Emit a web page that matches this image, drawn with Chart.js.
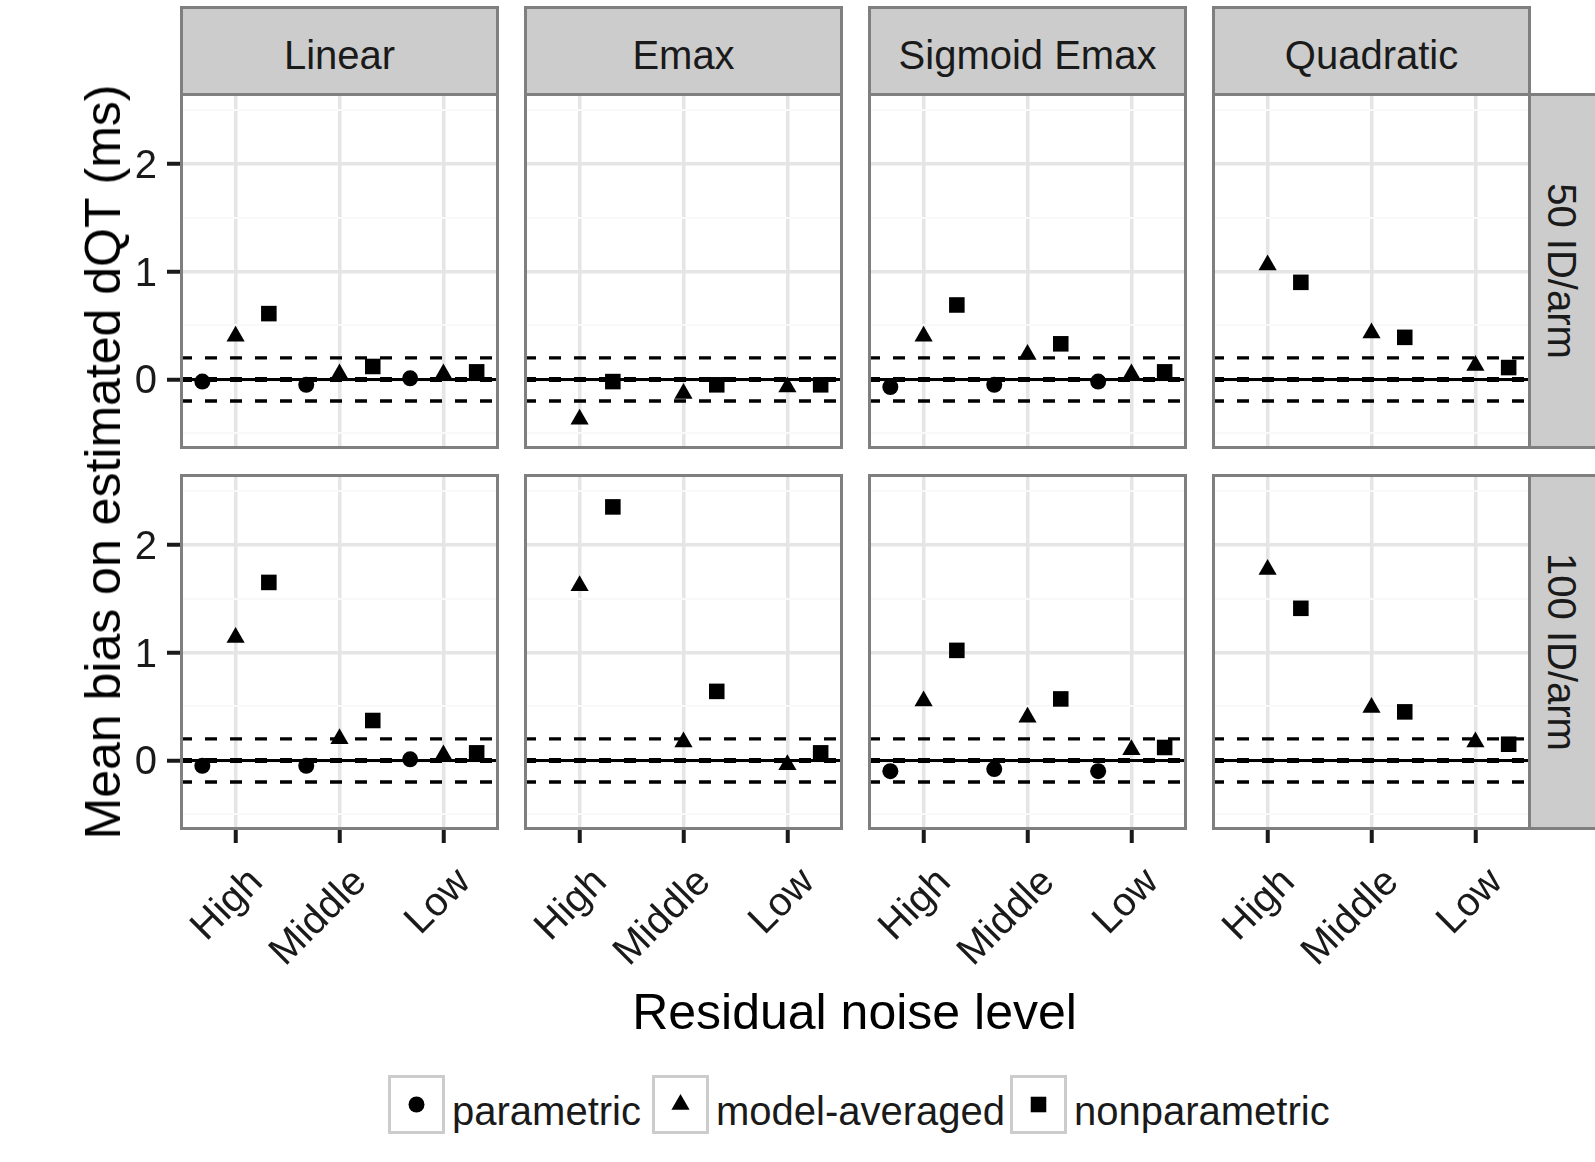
<!DOCTYPE html>
<html><head><meta charset="utf-8">
<script src="https://cdn.jsdelivr.net/npm/chart.js@4.4.1/dist/chart.umd.min.js"></script>
<style>
html,body{margin:0;padding:0;background:#fff;}
#root{position:relative;width:1595px;height:1162px;overflow:hidden;background:#fff;font-family:"Liberation Sans",Arial,sans-serif;color:#1a1a1a;}
#root canvas{position:absolute;}
.strip{position:absolute;box-sizing:border-box;background:#cccccc;border:3px solid #7f7f7f;}
.txt{position:absolute;white-space:nowrap;}
.key{position:absolute;box-sizing:border-box;border:3px solid #cccccc;background:#fff;}
</style></head>
<body><div id="root"></div>
<script>
// ---------------- data ----------------
const models = ['Linear', 'Emax', 'Sigmoid Emax', 'Quadratic'];
const sampleSizes = ['50 ID/arm', '100 ID/arm'];
const noiseLevels = ['High', 'Middle', 'Low'];
const methods = ['parametric', 'model-averaged', 'nonparametric'];
const yMajorTicks = [0, 1, 2];
const yMinorTicks = [-0.5, 0.5, 1.5, 2.5];
const refLevels = [-0.2, 0, 0.2];

// 50 ID/arm  (High, Middle, Low)
const linear50Param    = [-0.02, -0.05, 0.01];
const linear50ModelAvg = [0.40, 0.05, 0.05];
const linear50Nonpar   = [0.61, 0.12, 0.07];
const emax50Param      = [null, null, null];
const emax50ModelAvg   = [-0.37, -0.13, -0.07];
const emax50Nonpar     = [-0.02, -0.05, -0.05];
const sigmoid50Param   = [-0.07, -0.05, -0.02];
const sigmoid50ModelAvg= [0.40, 0.23, 0.05];
const sigmoid50Nonpar  = [0.69, 0.33, 0.07];
const quad50Param      = [null, null, null];
const quad50ModelAvg   = [1.06, 0.43, 0.13];
const quad50Nonpar     = [0.90, 0.39, 0.11];

// 100 ID/arm (High, Middle, Low)
const linear100Param    = [-0.05, -0.05, 0.01];
const linear100ModelAvg = [1.14, 0.20, 0.05];
const linear100Nonpar   = [1.65, 0.37, 0.07];
const emax100Param      = [null, null, null];
const emax100ModelAvg   = [1.62, 0.17, -0.04];
const emax100Nonpar     = [2.35, 0.64, 0.07];
const sigmoid100Param   = [-0.10, -0.08, -0.10];
const sigmoid100ModelAvg= [0.55, 0.40, 0.10];
const sigmoid100Nonpar  = [1.02, 0.57, 0.12];
const quad100Param      = [null, null, null];
const quad100ModelAvg   = [1.77, 0.49, 0.17];
const quad100Nonpar     = [1.41, 0.45, 0.15];

const panelSeries = [
  [[linear50Param, linear50ModelAvg, linear50Nonpar],
   [emax50Param, emax50ModelAvg, emax50Nonpar],
   [sigmoid50Param, sigmoid50ModelAvg, sigmoid50Nonpar],
   [quad50Param, quad50ModelAvg, quad50Nonpar]],
  [[linear100Param, linear100ModelAvg, linear100Nonpar],
   [emax100Param, emax100ModelAvg, emax100Nonpar],
   [sigmoid100Param, sigmoid100ModelAvg, sigmoid100Nonpar],
   [quad100Param, quad100ModelAvg, quad100Nonpar]]
];

// ---------------- layout / style ----------------
const FONT = '"Liberation Sans", Arial, sans-serif';
const colLeft = [180, 524, 868, 1212];
const panelW = 319;
const rowTop = [93, 474];
const panelH = 356;
const yMin = -0.645, yMax = 2.655;
const xMin = 0.465, xMax = 3.535;
const dodge = [-0.32, 0, 0.32];
const shapes = ['circle', 'triangle', 'rect'];
const radii = [8, 10.5, 11];
const TXT = '#1a1a1a';

const root = document.getElementById('root');

function addText(text, css) {
  const d = document.createElement('div');
  d.className = 'txt';
  d.textContent = text;
  Object.assign(d.style, css);
  root.appendChild(d);
  return d;
}

const framePlugin = {
  id: 'frame',
  afterDraw(chart) {
    const a = chart.chartArea, c = chart.ctx;
    c.save();
    c.strokeStyle = '#7f7f7f';
    c.lineWidth = 3;
    c.strokeRect(a.left + 1.5, a.top + 1.5, a.right - a.left - 3, a.bottom - a.top - 3);
    c.restore();
  }
};

const isMajor = v => yMajorTicks.includes(v);

function makePanel(r, c) {
  const yW = c === 0 ? 80 : 0;
  const xH = r === 1 ? 140 : 0;
  const cv = document.createElement('canvas');
  cv.width = panelW + yW;
  cv.height = panelH + xH;
  cv.style.left = (colLeft[c] - yW) + 'px';
  cv.style.top = rowTop[r] + 'px';
  cv.style.width = cv.width + 'px';
  cv.style.height = cv.height + 'px';
  root.appendChild(cv);

  const series = panelSeries[r][c];
  const datasets = [];
  methods.forEach((m, k) => {
    const pts = [];
    series[k].forEach((v, i) => { if (v !== null) pts.push({ x: i + 1 + dodge[k], y: v }); });
    datasets.push({
      type: 'scatter', label: m, data: pts,
      pointStyle: shapes[k], pointRadius: radii[k], pointHoverRadius: radii[k],
      pointBackgroundColor: '#000', pointBorderWidth: 0, borderWidth: 0
    });
  });
  refLevels.forEach(v => {
    datasets.push({
      type: 'line', data: [{ x: xMin, y: v }, { x: xMax, y: v }],
      borderColor: '#000', borderWidth: v === 0 ? 5 : 3.3, borderDash: [12, 13],
      pointRadius: 0, fill: false, tension: 0
    });
  });
  datasets.push({
    type: 'line', data: [{ x: xMin, y: 0 }, { x: xMax, y: 0 }],
    borderColor: '#000', borderWidth: 3, pointRadius: 0, fill: false
  });

  new Chart(cv, {
    type: 'scatter',
    data: { datasets },
    plugins: [framePlugin],
    options: {
      responsive: false, animation: false, devicePixelRatio: 1, events: [],
      layout: { padding: 0, autoPadding: false },
      plugins: { legend: { display: false }, tooltip: { enabled: false } },
      scales: {
        x: {
          type: 'linear', position: 'bottom', min: xMin, max: xMax,
          afterBuildTicks: s => { s.ticks = noiseLevels.map((_, i) => ({ value: i + 1 })); },
          afterFit: s => { s.height = xH; s.paddingLeft = 0; s.paddingRight = 0; s.paddingTop = 0; s.paddingBottom = 0; },
          grid: { color: '#e5e5e5', lineWidth: 3.5, drawTicks: r === 1, tickLength: 13, tickWidth: 4, tickColor: TXT },
          border: { display: false },
          ticks: {
            display: r === 1, autoSkip: false, minRotation: 45, maxRotation: 45,
            padding: 16, labelOffset: 21, color: TXT, font: { family: FONT, size: 40 },
            callback: v => noiseLevels[v - 1] || ''
          }
        },
        y: {
          type: 'linear', position: 'left', min: yMin, max: yMax,
          afterBuildTicks: s => {
            s.ticks = [...yMinorTicks, ...yMajorTicks].sort((a, b) => a - b).map(v => ({ value: v }));
          },
          afterFit: s => { s.width = yW; s.paddingLeft = 0; s.paddingRight = 0; s.paddingTop = 0; s.paddingBottom = 0; },
          grid: {
            color: ctx => (ctx.tick && isMajor(ctx.tick.value)) ? '#e5e5e5' : '#f9f9f9',
            lineWidth: ctx => (ctx.tick && isMajor(ctx.tick.value)) ? 3.5 : 2,
            drawTicks: c === 0, tickLength: 13, tickWidth: 4,
            tickColor: ctx => (ctx.tick && isMajor(ctx.tick.value)) ? TXT : 'rgba(0,0,0,0)'
          },
          border: { display: false },
          ticks: {
            display: c === 0, autoSkip: false, padding: 10, labelOffset: 3,
            color: TXT, font: { family: FONT, size: 40 },
            callback: v => isMajor(v) ? String(v) : ''
          }
        }
      }
    }
  });
}

// top strips
models.forEach((m, c) => {
  const s = document.createElement('div');
  s.className = 'strip';
  Object.assign(s.style, { left: colLeft[c] + 'px', top: '6px', width: panelW + 'px', height: '90px' });
  root.appendChild(s);
});
// right strips
sampleSizes.forEach((lab, r) => {
  const s = document.createElement('div');
  s.className = 'strip';
  Object.assign(s.style, { left: (colLeft[3] + panelW - 3) + 'px', top: rowTop[r] + 'px', width: '80px', height: panelH + 'px' });
  root.appendChild(s);
});

for (let r = 0; r < 2; r++) for (let c = 0; c < 4; c++) makePanel(r, c);

// strip labels
models.forEach((m, c) => {
  addText(m, { left: (colLeft[c] + panelW / 2) + 'px', top: '35px', fontSize: '40px', lineHeight: '40px',
    transform: 'translateX(-50%)', color: TXT });
});
sampleSizes.forEach((lab, r) => {
  addText(lab, { left: '1562px', top: (rowTop[r] + panelH / 2) + 'px', fontSize: '40px', lineHeight: '40px',
    transform: 'translate(-50%,-50%) rotate(90deg)', color: TXT });
});

// axis titles
addText('Residual noise level', { left: '854.5px', top: '987px', fontSize: '50px', lineHeight: '50px',
  transform: 'translateX(-50%)', color: '#000' });
addText('Mean bias on estimated dQT (ms)', { left: '103px', top: '462px', fontSize: '50px', lineHeight: '50px',
  transform: 'translate(-50%,-50%) rotate(-90deg)', color: '#000' });

// legend
const keyLeft = [388, 652, 1010];
const keyTop = 1075, keyW = 57, keyH = 59;
const svgNS = 'http://www.w3.org/2000/svg';
methods.forEach((m, k) => {
  const box = document.createElement('div');
  box.className = 'key';
  Object.assign(box.style, { left: keyLeft[k] + 'px', top: keyTop + 'px', width: keyW + 'px', height: keyH + 'px' });
  const svg = document.createElementNS(svgNS, 'svg');
  svg.setAttribute('width', keyW - 6); svg.setAttribute('height', keyH - 6);
  svg.style.position = 'absolute'; svg.style.left = '0'; svg.style.top = '0';
  const cx = (keyW - 6) / 2, cy = (keyH - 6) / 2, rr = radii[k];
  let el;
  if (shapes[k] === 'circle') {
    el = document.createElementNS(svgNS, 'circle');
    el.setAttribute('cx', cx); el.setAttribute('cy', cy); el.setAttribute('r', rr);
  } else if (shapes[k] === 'triangle') {
    el = document.createElementNS(svgNS, 'polygon');
    const hw = rr * Math.sqrt(3) / 2;
    el.setAttribute('points', `${cx},${cy - rr} ${cx + hw},${cy + rr / 2} ${cx - hw},${cy + rr / 2}`);
  } else {
    el = document.createElementNS(svgNS, 'rect');
    const h = rr * Math.SQRT1_2;
    el.setAttribute('x', cx - h); el.setAttribute('y', cy - h);
    el.setAttribute('width', 2 * h); el.setAttribute('height', 2 * h);
  }
  el.setAttribute('fill', '#000');
  svg.appendChild(el);
  box.appendChild(svg);
  root.appendChild(box);
  addText(m, { left: (keyLeft[k] + keyW + 7) + 'px', top: '1091px', fontSize: '40px', lineHeight: '40px', color: TXT });
});
</script>
</body></html>
